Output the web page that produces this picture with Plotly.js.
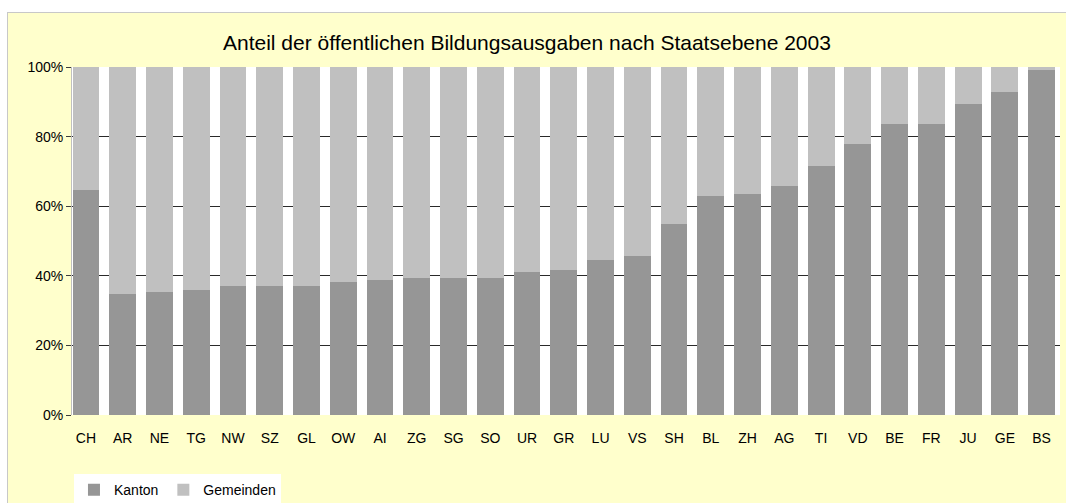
<!DOCTYPE html>
<html>
<head>
<meta charset="utf-8">
<script src="https://cdn.plot.ly/plotly-3.0.1.min.js"></script>
<style>
  html, body { margin: 0; padding: 0; background: #ffffff; width: 1066px; height: 503px; overflow: hidden; }
  #frame { position: absolute; left: 7px; top: 12px; width: 1059px; height: 491px;
           border-left: 1px solid #c8c8c8; border-top: 1px solid #c8c8c8; box-sizing: border-box; background: #FFFFCC; }
  #chart { position: absolute; left: 0; top: 0; width: 1058px; height: 490px; }
</style>
</head>
<body>
<div id="frame"><div id="chart"></div></div>
<script>
const categories = ["CH","AR","NE","TG","NW","SZ","GL","OW","AI","ZG","SG","SO","UR","GR","LU","VS","SH","BL","ZH","AG","TI","VD","BE","FR","JU","GE","BS"];
const kanton = [0.647,0.349,0.354,0.360,0.372,0.372,0.372,0.383,0.389,0.395,0.395,0.395,0.412,0.417,0.445,0.457,0.549,0.629,0.635,0.657,0.716,0.779,0.836,0.836,0.893,0.927,0.991];
const gemeinden = kanton.map(v => +(1 - v).toFixed(3));
const titleText = "Anteil der öffentlichen Bildungsausgaben nach Staatsebene 2003";
const yTicks = [0, 0.2, 0.4, 0.6, 0.8, 1.0];
const yTickText = ["0%","20%","40%","60%","80%","100%"];
const gridVals = [0.2, 0.4, 0.6, 0.8];

const font = "Arial, 'Liberation Sans', sans-serif";
const xRange = [-0.38, 26.5];

const traces = [
  { type: "bar", name: "Kanton", x: categories, y: kanton,
    marker: { color: "#969696", line: { width: 0 } }, hoverinfo: "x+y" },
  { type: "bar", name: "Gemeinden", x: categories, y: gemeinden,
    marker: { color: "#C0C0C0", line: { width: 0 } }, hoverinfo: "x+y" }
];

const layout = {
  width: 1058, height: 490,
  paper_bgcolor: "#FFFFCC",
  plot_bgcolor: "#FFFFFF",
  margin: { l: 64, r: 6, t: 54, b: 88, autoexpand: false },
  barmode: "stack",
  bargap: 0.27,
  font: { family: font, size: 14, color: "#000000" },
  title: { text: titleText, font: { family: font, size: 21, color: "#000000" },
           xref: "container", x: 0.4905, xanchor: "center", yref: "container", y: 1 - 30/490, yanchor: "middle" },
  xaxis: { type: "category", range: xRange, showgrid: false, zeroline: false, showline: false, ticks: "",
           tickfont: { size: 14 }, ticklabelstandoff: 13, fixedrange: true, automargin: false },
  yaxis: { range: [0, 1], tickvals: yTicks, ticktext: yTickText, showgrid: false, zeroline: false,
           showline: true, linecolor: "#c0c0c0", linewidth: 1,
           ticks: "outside", ticklen: 5, tickcolor: "#3c3c3c", tickfont: { size: 14 }, fixedrange: true,
           automargin: false,
           minor: { tickvals: gridVals, showgrid: true, gridcolor: "#2a2a2a", gridwidth: 1, ticks: "" } },
  showlegend: true,
  legend: { orientation: "h", traceorder: "normal", x: 0.002, xanchor: "left", y: -0.17, yanchor: "top",
            bgcolor: "#FFFFFF", font: { size: 14 } }
};

Plotly.newPlot("chart", traces, layout, { displayModeBar: false, staticPlot: true });
</script>
</body>
</html>
